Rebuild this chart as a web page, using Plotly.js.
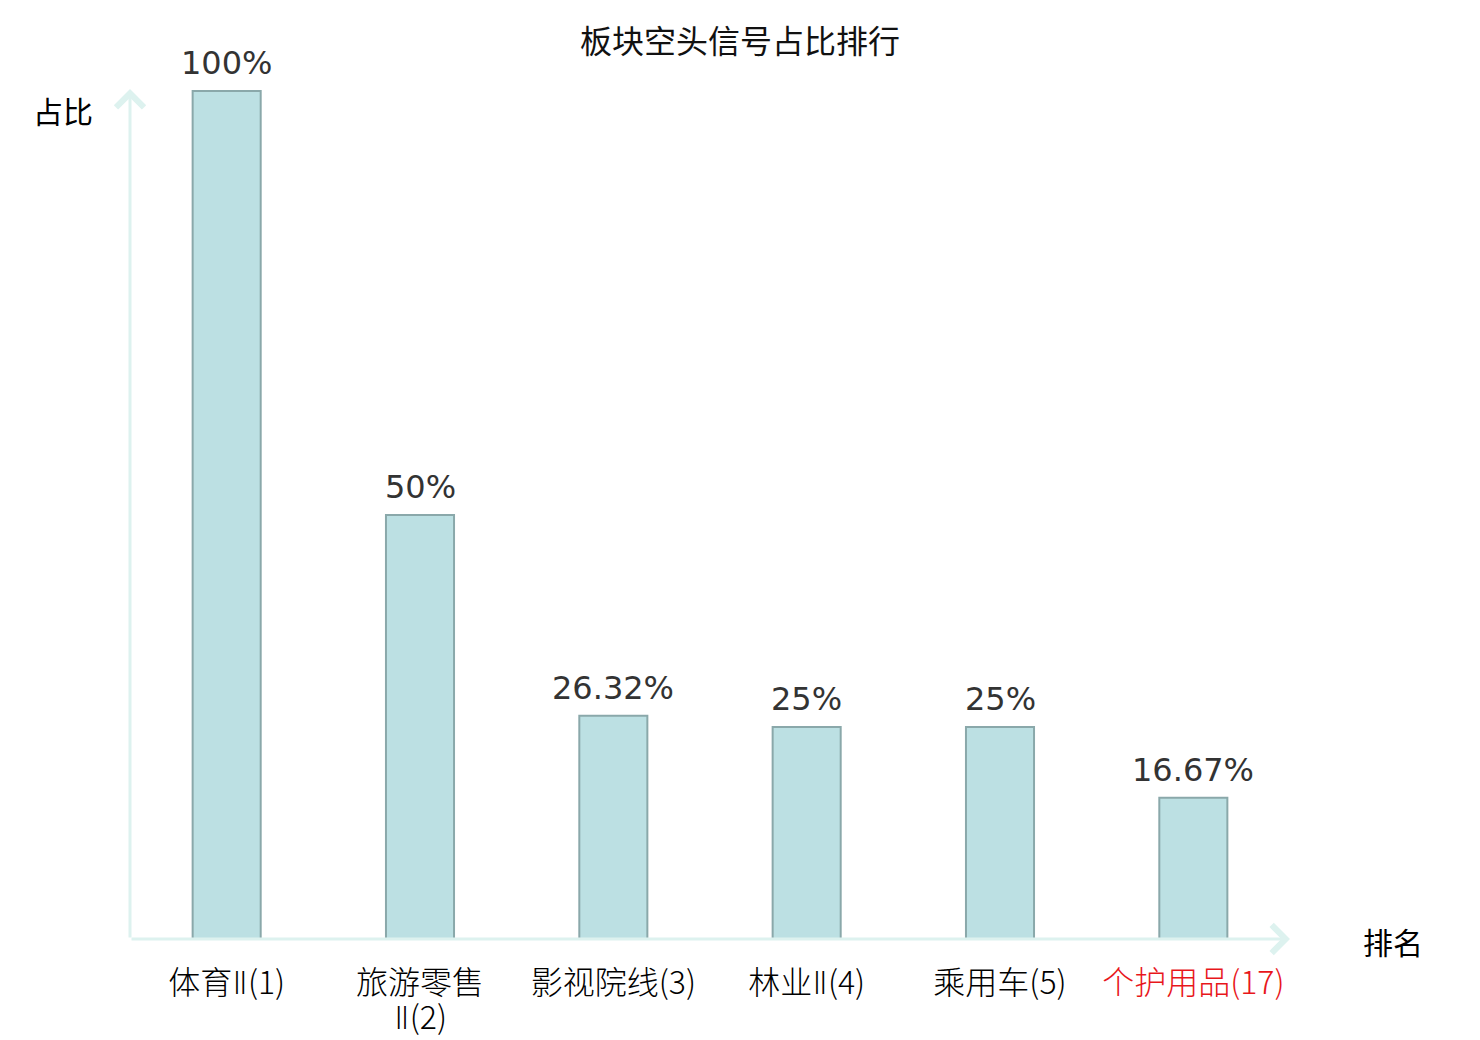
<!DOCTYPE html>
<html>
<head>
<meta charset="utf-8">
<script src="https://cdn.plot.ly/plotly-3.0.1.min.js"></script>
<style>html,body{margin:0;padding:0;background:#fff;}#chart{width:1480px;height:1040px;}</style>
</head>
<body>
<div id="chart"></div>
<script>
const categories = ["体育Ⅱ(1)", "旅游零售Ⅱ(2)", "影视院线(3)", "林业Ⅱ(4)", "乘用车(5)", "个护用品(17)"];
const R2 = "<span style=\"font-family:'DejaVu Sans ExtraLight','DejaVu Sans'\">Ⅱ</span>";
const tickLine1 = ["体育" + R2 + "(1)", "旅游零售", "影视院线(3)", "林业" + R2 + "(4)", "乘用车(5)", "<span style=\"color:#e8161b\">个护用品(17)</span>"];
const tickLine2 = ["", R2 + "(2)", "", "", "", ""];
const values = [100, 50, 26.32, 25, 25, 16.67];
const valueLabels = ["100%", "50%", "26.32%", "25%", "25%", "16.67%"];

const CJK = "Noto Sans CJK SC, sans-serif";
const axisColor = "#ddf2ef";
const tickFont = { family: CJK, size: 32, color: "#000", weight: 300 };

const trace = {
  type: "bar",
  x: categories,
  y: values,
  width: 0.352,
  marker: { color: "rgb(188,224,227)", line: { color: "rgb(138,168,170)", width: 2 } },
  hoverinfo: "skip"
};

const annotations = categories.map((c, i) => ({
  x: c, y: values[i], xref: "x", yref: "y",
  text: valueLabels[i], showarrow: false,
  yanchor: "bottom", yshift: 7,
  font: { family: "DejaVu Sans", size: 32, color: "#333333" }
}));

categories.forEach((c, i) => {
  if (tickLine2[i]) {
    annotations.push({
      x: c, y: 0, xref: "x", yref: "y", text: tickLine2[i], showarrow: false,
      yanchor: "middle", yshift: -76, font: tickFont
    });
  }
});

annotations.push({
  xref: "paper", yref: "paper", x: 1, y: 0, ax: -1160, ay: 0,
  axref: "pixel", ayref: "pixel", text: "", showarrow: true,
  arrowhead: 4, arrowsize: 1.8, arrowwidth: 3, arrowcolor: axisColor, standoff: 0
});
annotations.push({
  xref: "paper", yref: "paper", x: 0, y: 1, ax: 0, ay: 850,
  axref: "pixel", ayref: "pixel", text: "", showarrow: true,
  arrowhead: 4, arrowsize: 1.8, arrowwidth: 3, arrowcolor: axisColor, standoff: 0
});
annotations.push({
  xref: "paper", yref: "paper", x: -0.058, y: 0.975, xanchor: "center", yanchor: "middle",
  text: "占比", showarrow: false, font: { family: CJK, size: 30, color: "#000" }
});
annotations.push({
  xref: "paper", yref: "paper", x: 1.089, y: -0.002, xanchor: "center", yanchor: "middle",
  text: "排名", showarrow: false, font: { family: CJK, size: 30, color: "#000" }
});

const layout = {
  width: 1480, height: 1040,
  paper_bgcolor: "#ffffff", plot_bgcolor: "#ffffff",
  margin: { l: 130, r: 190, t: 89, b: 101 },
  showlegend: false,
  title: {
    text: "板块空头信号占比排行",
    font: { family: CJK, size: 32, color: "#111" },
    x: 0.5, xref: "container", xanchor: "center",
    y: 1 - 42 / 1040, yref: "container", yanchor: "middle"
  },
  xaxis: {
    type: "category", range: [-0.5, 5.5],
    tickvals: categories, ticktext: tickLine1,
    showline: false, showgrid: false, zeroline: false, ticks: "",
    ticklabelstandoff: 22,
    tickfont: tickFont
  },
  yaxis: {
    range: [0, 100.24], showline: false, showgrid: false, zeroline: false,
    showticklabels: false, ticks: ""
  },
  annotations: annotations
};

Plotly.newPlot("chart", [trace], layout, { displayModeBar: false, staticPlot: true });
</script>
</body>
</html>
